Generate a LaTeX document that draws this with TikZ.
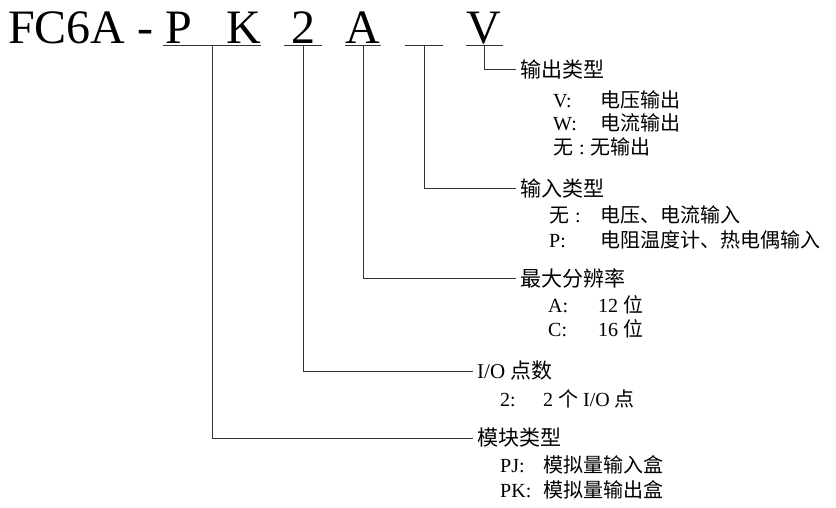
\documentclass[tikz,border=0pt]{standalone}
\usepackage{fontspec}
\setmainfont{Liberation Serif}
\newfontfamily\cjk{Noto Sans CJK SC}
\usetikzlibrary{positioning}
\newcommand{\zh}[1]{{\cjk #1}}
\newcommand{\kv}[3][47pt]{\makebox[#1][l]{#2}#3}
\tikzset{
  code/.style={font=\fontsize{48}{48}\selectfont, inner sep=0pt, anchor=base},
  head/.style={font=\fontsize{21}{21}\selectfont\cjk, inner sep=0pt, anchor=west},
  item/.style={font=\fontsize{20}{20}\selectfont, inner sep=0pt, anchor=west},
  wire/.style={line width=0.8pt, black!80},
}
\begin{document}
\begin{tikzpicture}[x=1pt,y=-1pt]
\useasboundingbox (0,0) rectangle (836,507);
%Model code
\node[code, anchor=base west] (fc) at (8,43) {FC6A -};
\node[code] (kP) at (179,43) {P};
\node[code] (kK) at (244,43) {K};
\node[code] (k2) at (303,43) {2};
\node[code] (kA) at (363,43) {A};
\node[code] (kV) at (484,43) {V};
%Underlines
\draw[wire] (163,45) -- (261,45) coordinate[pos=0.5] (uPK);
\draw[wire] (284,45) -- (322,45) coordinate[pos=0.5] (u2);
\draw[wire] (345,45) -- (381,45) coordinate[pos=0.5] (uA);
\draw[wire] (405,45) -- (443,45) coordinate[pos=0.5] (uIn);
\draw[wire] (466,45) -- (503,45) coordinate[pos=0.5] (uV);
%Headings
\node[head] (hOut) at (520,69) {输出类型};
\node[head] (hIn) at (520,188) {输入类型};
\node[head] (hRes) at (520,278) {最大分辨率};
\node[head, font=\fontsize{21}{21}\selectfont] (hIO) at (477,371) {I/O \zh{点数}};
\node[head] (hMod) at (477,438) {模块类型};
%Connectors
\draw[wire] (uV) |- ([xshift=-4pt]hOut.west);
\draw[wire] (uIn) |- ([xshift=-4pt]hIn.west);
\draw[wire] (uA) |- ([xshift=-4pt]hRes.west);
\draw[wire] (u2) |- ([xshift=-4pt]hIO.west);
\draw[wire] (uPK) |- ([xshift=-4pt]hMod.west);
%Items
\node[item] (o1) at (553,100) {\kv{V:}{\zh{电压输出}}};
\node[item] (o2) at (553,123) {\kv{W:}{\zh{电流输出}}};
\node[item] (o3) at (553,147) {\zh{无}\hspace{6pt}:\hspace{6pt}\zh{无输出}};
\node[item] (i1) at (549,215) {\kv[51pt]{\zh{无}\hspace{6pt}:}{\zh{电压、电流输入}}};
\node[item] (i2) at (549,240) {\kv[51pt]{P:}{\zh{电阻温度计、热电偶输入}}};
\node[item] (r1) at (548,305) {\kv[50pt]{A:}{12 \zh{位}}};
\node[item] (r2) at (548,329) {\kv[50pt]{C:}{16 \zh{位}}};
\node[item] (p1) at (500,399) {\kv[43pt]{2:}{2 \zh{个} I/O \zh{点}}};
\node[item] (m1) at (500,465) {\kv[43pt]{PJ:}{\zh{模拟量输入盒}}};
\node[item] (m2) at (500,490) {\kv[43pt]{PK:}{\zh{模拟量输出盒}}};
\end{tikzpicture}
\end{document}
